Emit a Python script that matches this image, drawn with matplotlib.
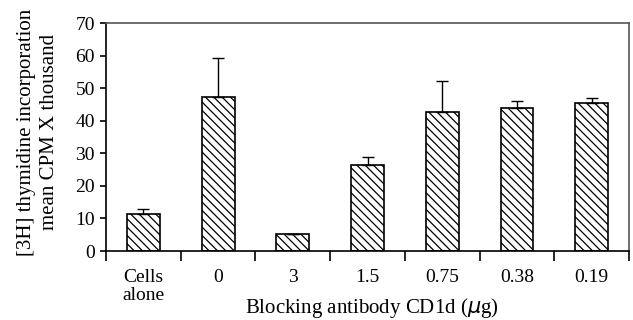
import matplotlib
matplotlib.use("Agg")
import matplotlib.pyplot as plt
import numpy as np

# values
categories = ["Cells\nalone", "0", "3", "1.5", "0.75", "0.38", "0.19"]
means = [11.3, 47.4, 5.1, 26.3, 42.7, 43.9, 45.4]
err_up = [1.5, 11.9, 0.0, 2.6, 9.5, 2.1, 1.5]

plt.rcParams['font.family'] = ['Liberation Serif', 'DejaVu Serif']
plt.rcParams['hatch.linewidth'] = 0.9

fig = plt.figure(figsize=(6.33, 3.2), dpi=100)
ax = fig.add_axes([0.1675, 0.2156, 0.8262, 0.7114])

x = np.arange(len(categories))
ax.bar(x, means, width=0.44, color='white', edgecolor='black', linewidth=1.2,
       hatch='\\\\\\\\', zorder=2)
ax.errorbar(x, means, yerr=[np.zeros(len(means)), err_up], fmt='none',
            ecolor='black', elinewidth=1.0, capsize=4, capthick=1.0, zorder=3)

ax.set_xlim(-0.5, len(categories) - 0.5)
ax.set_ylim(0, 70)
ax.set_yticks(range(0, 71, 10))

# labels under categories, ticks between categories
ax.set_xticks(x)
ax.set_xticklabels(categories, linespacing=1.1)
ax.set_xticks(np.arange(-0.5, len(categories), 1), minor=True)
ax.tick_params(axis='x', which='major', length=0, pad=13, labelsize=14)
ax.tick_params(axis='x', which='minor', length=7, width=1.2, direction='out')
ax.tick_params(axis='y', length=4, width=1.2, direction='out', labelsize=14, pad=4)

for s in ['left', 'bottom']:
    ax.spines[s].set_linewidth(1.2)
    ax.spines[s].set_color('black')
for s in ['top', 'right']:
    ax.spines[s].set_linewidth(1.2)
    ax.spines[s].set_color('#555555')

fig.text(0.588, 0.021, "Blocking antibody CD1d ($\\mathit{\\mu}$g)", fontsize=15,
         ha='center', va='baseline')
fig.text(0.06, 0.5875, "[3H] thymidine incorporation\nmean CPM X thousand", fontsize=15,
         rotation=90, ha='center', va='center', linespacing=1.35)

fig.savefig("out.png", dpi=100)
